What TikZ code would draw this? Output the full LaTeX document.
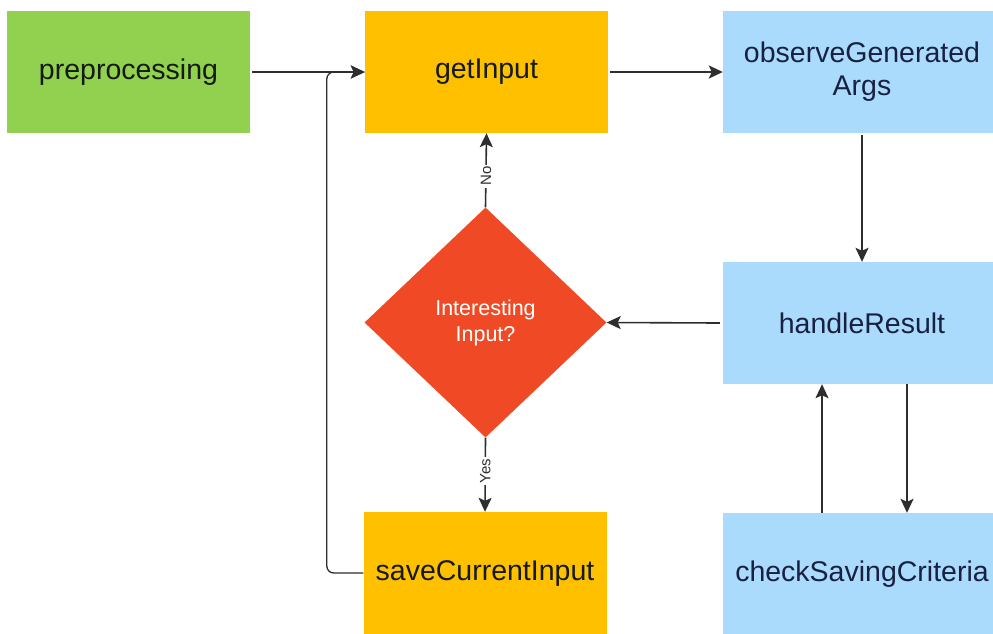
\documentclass[tikz,border=0pt]{standalone}
\usepackage{fontspec}
\setmainfont{Liberation Sans}
\usetikzlibrary{shapes.geometric,arrows.meta,calc}
\definecolor{stepgreen}{HTML}{92D050}
\definecolor{stepyellow}{HTML}{FFC000}
\definecolor{stepblue}{HTML}{AADBFD}
\definecolor{decisionred}{HTML}{EF4A25}
\definecolor{inktext}{HTML}{141A14}
\definecolor{navytext}{HTML}{18213F}
\definecolor{lineink}{HTML}{2E2E2E}
\tikzset{
  box/.style={rectangle, draw=none, inner sep=0pt, minimum width=243pt, minimum height=122pt,
    font=\fontsize{28.5}{33}\selectfont, align=center},
  greenbox/.style={box, fill=stepgreen, text=inktext},
  yellowbox/.style={box, fill=stepyellow, text=inktext},
  bluebox/.style={box, fill=stepblue, text=navytext, minimum width=278pt},
  decision/.style={diamond, draw=none, fill=decisionred, text=white, inner sep=0pt,
    minimum width=242pt, minimum height=230pt, font=\fontsize{21.5}{26}\selectfont, align=center},
  flow/.style={draw=lineink, line width=1.6pt, -{Stealth[length=14pt,width=13pt,inset=3pt]}},
  edgelabel/.style={fill=white, text=lineink, font=\fontsize{15}{17}\selectfont, rotate=90, inner sep=2pt}
}
\begin{document}
\begin{tikzpicture}[x=1pt,y=1pt]
\useasboundingbox (0,0) rectangle (993,-633);
\fill[white] (0,0) rectangle (993,-633);

% process steps
\node[greenbox]  (pre)  at (128.5,-72)  {preprocessing};
\node[yellowbox] (get)  at (486.5,-72)  {getInput};
\node[bluebox]   (obs)  at (862,-72)    {observeGenerated\\Args};
\node[bluebox]   (res)  at (862,-323)   {handleResult};
\node[bluebox]   (chk)  at (862,-574)   {checkSavingCriteria};
\node[yellowbox] (save) at (485,-573)   {saveCurrentInput};
\node[decision]  (dec)  at (485.5,-322.5) {Interesting\\Input?};

% main flow
\draw[flow] (pre.east) ++(2,0) -- (get.west);
\draw[flow] (get.east) ++(2,0) -- (obs.west);
\draw[flow] (obs.south) ++(0,-2) -- (res.north);
\draw[flow] (res.west) ++(-3,0) -- (dec.east);

% decision outcomes
\draw[flow] (dec.north) -- node[edgelabel, pos=0.42] {No} (get.south);
\draw[flow] (dec.south) -- node[edgelabel, pos=0.45] {Yes} (save.north);

% loop back to the input step
\coordinate (loopx) at ($(get.west)+(-38,0)$);
\draw[flow, line width=1.3pt, rounded corners=7pt] (save.west) -| (loopx) -- (get.west);

% criteria check round trip
\draw[flow] ($(chk.north)+(-40,0)$) -- ($(res.south)+(-40,0)$);
\draw[flow] ($(res.south)+(45,0)$) -- ($(chk.north)+(45,0)$);
\end{tikzpicture}
\end{document}
